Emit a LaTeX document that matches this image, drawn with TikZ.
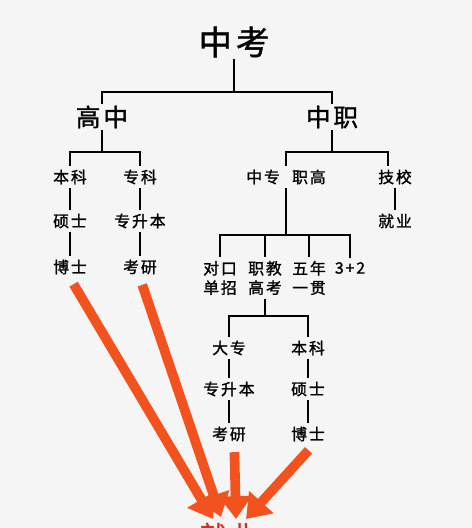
\documentclass[tikz,border=0pt]{standalone}
\usepackage{fontspec}
\newfontfamily\cjk[LetterSpace=12,FakeBold=1.3]{Noto Sans CJK SC}
\usetikzlibrary{arrows.meta}
\definecolor{bgcol}{RGB}{245,245,245}
\definecolor{arrowred}{RGB}{242,82,30}
\definecolor{jyred}{RGB}{220,45,30}

\begin{document}
\begin{tikzpicture}[x=0.02cm,y=-0.02cm,
  big/.style={font=\cjk\fontsize{19}{19}\selectfont, inner sep=1pt},
  mid/.style={font=\cjk\fontsize{14}{14}\selectfont, inner sep=1pt},
  small/.style={font=\cjk\fontsize{9}{11}\selectfont, align=center, inner sep=2pt},
  tree/.style={line width=0.8pt},
  bigarrow/.style={line width=5.5pt, arrowred, shorten <=4pt,
    -{Triangle[width=18pt,length=13pt]}}
]
  \useasboundingbox (0,0) rectangle (472,528);
  \fill[bgcol] (0,0) rectangle (472,528);
  \clip (0,0) rectangle (472,528);

  \node[big] (zk) at (234,42) {中考};
  \node[mid] (gz) at (102,117) {高中};
  \node[mid] (zz) at (332,117) {中职};

  % high school branch
  \node[small] (bk1) at (70,177) {本科};
  \node[small] (ss1) at (70,221) {硕士};
  \node[small] (bs1) at (70,267) {博士};
  \node[small] (zke) at (140,177) {专科};
  \node[small] (zsb1) at (140,221) {专升本};
  \node[small] (ky1) at (140,267) {考研};

  % vocational branch
  \node[small] (zg) at (286,177) {中专\hspace{7pt}职高};
  \node[small] (jx) at (395,177) {技校};
  \node[small] (jiuye) at (395,221) {就业};
  \node[small] (dk) at (220,278) {对口\\单招};
  \node[small] (jj) at (265,278) {职教\\高考};
  \node[small] (wn) at (309,278) {五年\\一贯};
  \node[small] (sj) at (350,268) {3+2};
  \node[small] (dz) at (229,348) {大专};
  \node[small] (zsb2) at (229,389) {专升本};
  \node[small] (ky2) at (229,434) {考研};
  \node[small] (bk2) at (308,348) {本科};
  \node[small] (ss2) at (308,389) {硕士};
  \node[small] (bs2) at (308,434) {博士};

  \node[font=\cjk\fontsize{15}{15}\selectfont, text=jyred] (jyb) at (228,535) {就业};

  \coordinate (b0) at (234,92);
  \coordinate (b1) at (102,152);
  \coordinate (b2) at (332,152);
  \coordinate (b3) at (286,235);
  \coordinate (b4) at (265,316);

  \draw[tree] (zk) -- (b0) -| (gz) (b0) -| (zz);
  \draw[tree] (gz) -- (b1) -| (bk1) (b1) -| (zke);
  \draw[tree] (zz) -- (b2) -| (zg) (b2) -| ([xshift=-4pt]jx.north);
  \draw[tree] (zg) -- (b3) -| (dk) (b3) -| (jj) (b3) -| (wn) (b3) -| (sj);
  \draw[tree] (jj) -- (b4) -| (dz) (b4) -| (bk2);
  \draw[tree] (bk1) -- (ss1) -- (bs1) (zke) -- (zsb1) -- (ky1);
  \draw[tree] (jx) -- (jiuye);
  \draw[tree] (dz) -- (zsb2) -- (ky2) (bk2) -- (ss2) -- (bs2);

  \coordinate (e1) at (213,519);
  \coordinate (e2) at (221,517);
  \coordinate (e3) at (236,519);
  \coordinate (e4) at (246,519);

  \draw[bigarrow] (bs1.south) -- (e1);
  \draw[bigarrow] (ky1.south) -- (e2);
  \draw[bigarrow] ([xshift=3pt]ky2.south) -- (e3);
  \draw[bigarrow] ([xshift=3pt]bs2.south) -- (e4);
\end{tikzpicture}
\end{document}
